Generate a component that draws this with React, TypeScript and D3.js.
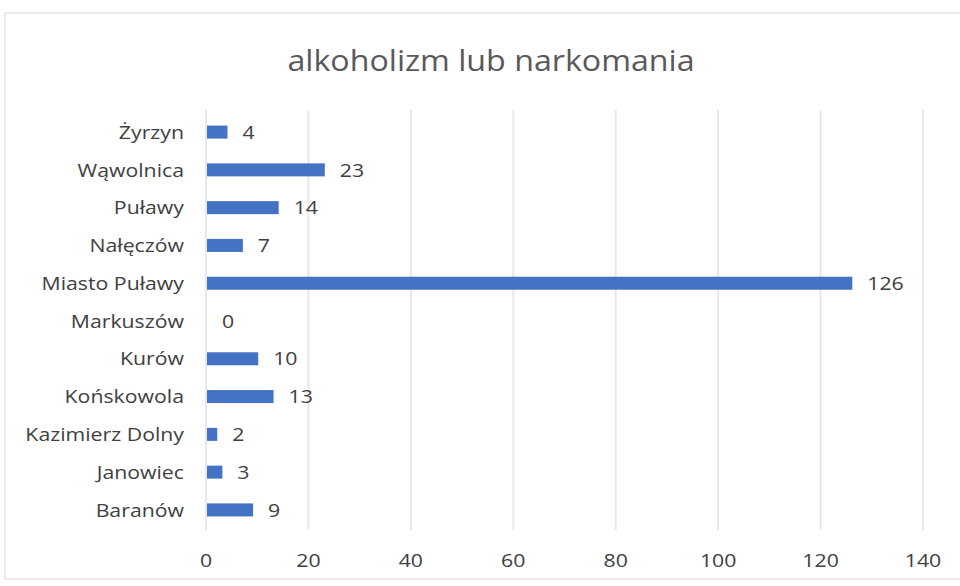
import React from "react";
import * as d3 from "d3";

const categories = [
  "Żyrzyn",
  "Wąwolnica",
  "Puławy",
  "Nałęczów",
  "Miasto Puławy",
  "Markuszów",
  "Kurów",
  "Końskowola",
  "Kazimierz Dolny",
  "Janowiec",
  "Baranów",
];
const values = [4, 23, 14, 7, 126, 0, 10, 13, 2, 3, 9];
const xTicks = [0, 20, 40, 60, 80, 100, 120, 140];
const title = "alkoholizm lub narkomania";

const W = 960;
const H = 586;
const FONT = "'Open Sans', sans-serif";
const SX = 1.12;

function T(props: {
  x: number;
  y: number;
  anchor: "start" | "middle" | "end";
  size: number;
  fill: string;
  dy?: string;
  sx?: number;
  children: React.ReactNode;
}) {
  const s = props.sx ?? SX;
  return (
    <text
      transform={`translate(${props.x},${props.y}) scale(${s},1)`}
      dy={props.dy}
      textAnchor={props.anchor}
      fontFamily={FONT}
      fontSize={props.size}
      fill={props.fill}
    >
      {props.children}
    </text>
  );
}

export default function App() {
  const x = d3.scaleLinear().domain([0, 140]).range([206, 923]);
  const y = d3
    .scaleBand<string>()
    .domain(categories)
    .range([113, 529])
    .paddingInner(0.65)
    .paddingOuter(0.33);
  const bh = 13;

  return (
    <svg
      width={W}
      height={H}
      style={{ position: "absolute", left: 0, top: 0, background: "#fff" }}
    >
      <rect x={0} y={0} width={W} height={H} fill="#fff" />
      <rect
        x={5}
        y={13}
        width={W}
        height={H - 20}
        fill="#fff"
        stroke="#ececec"
        strokeWidth={2}
      />
      <T x={491} y={71} anchor="middle" size={29} fill="#595959" sx={1.11}>
        {title}
      </T>
      {xTicks.map((t) => (
        <g key={t}>
          <line
            x1={x(t)}
            x2={x(t)}
            y1={110}
            y2={530}
            stroke="#e8e8e8"
            strokeWidth={2}
          />
          <T x={x(t)} y={567} anchor="middle" size={19} fill="#404040">
            {t}
          </T>
        </g>
      ))}
      {categories.map((c, i) => {
        const cy = (y(c) as number) + y.bandwidth() / 2;
        const v = values[i];
        return (
          <g key={c}>
            <T x={184} y={cy} dy="0.35em" anchor="end" size={19} fill="#404040">
              {c}
            </T>
            {v > 0 && (
              <rect
                x={x(0) + 1}
                y={cy - bh / 2}
                width={x(v) - x(0)}
                height={bh}
                fill="#4472c4"
              />
            )}
            <T
              x={x(v) + 16}
              y={cy}
              dy="0.35em"
              anchor="start"
              size={19}
              fill="#404040"
            >
              {v}
            </T>
          </g>
        );
      })}
    </svg>
  );
}
